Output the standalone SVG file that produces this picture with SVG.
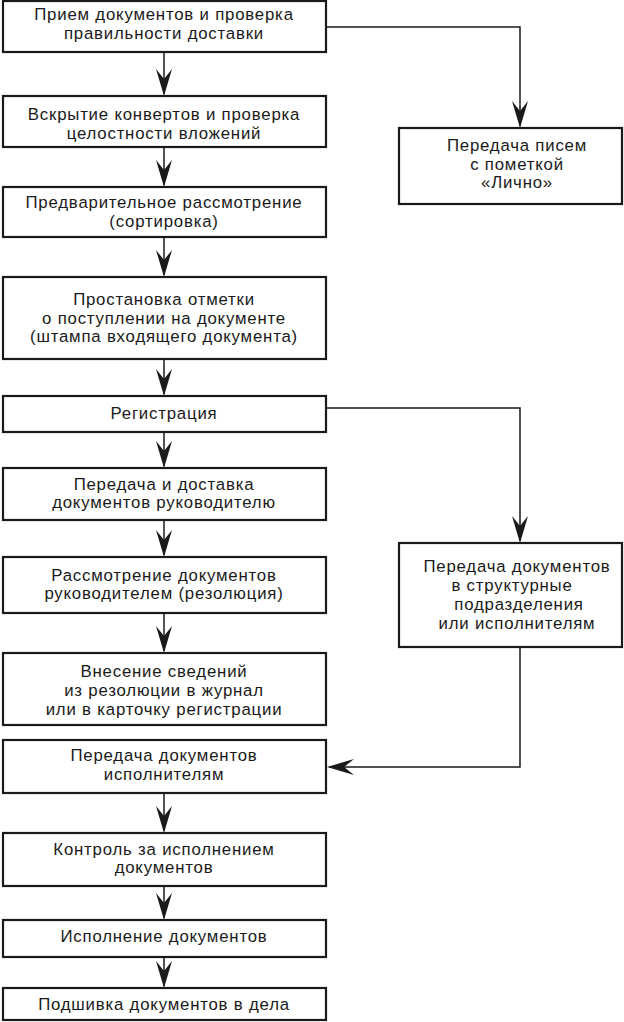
<svg xmlns="http://www.w3.org/2000/svg" width="624" height="1022" viewBox="0 0 624 1022">
<style>
.box{fill:#fff;stroke:#1a1a1a;stroke-width:2.2}
.t{font-family:"Liberation Sans",Arial,sans-serif;font-size:16.8px;letter-spacing:0.8px;fill:#1a1a1a;text-anchor:middle}
.c{fill:none;stroke:#1a1a1a;stroke-width:1.5}
</style>
<defs>
<marker id="ah" markerUnits="userSpaceOnUse" markerWidth="30" markerHeight="20" viewBox="-1 -9 30 18" refX="25" refY="0" orient="auto">
<path d="M27,0 L0,-8 L10,0 L0,8 Z" fill="#1a1a1a"/>
</marker>
</defs>
<rect width="624" height="1022" fill="#fff"/>
<g id="connectors">
<path class="c" d="M164,52 V94" marker-end="url(#ah)"/>
<path class="c" d="M164,147 V185" marker-end="url(#ah)"/>
<path class="c" d="M164,237 V275" marker-end="url(#ah)"/>
<path class="c" d="M164,359 V394" marker-end="url(#ah)"/>
<path class="c" d="M164,432 V466" marker-end="url(#ah)"/>
<path class="c" d="M164,520 V555" marker-end="url(#ah)"/>
<path class="c" d="M164,613 V651" marker-end="url(#ah)"/>
<path class="c" d="M164,793 V831" marker-end="url(#ah)"/>
<path class="c" d="M164,886 V918" marker-end="url(#ah)"/>
<path class="c" d="M164,957 V986" marker-end="url(#ah)"/>
<path class="c" d="M326,27 H520 V126" marker-end="url(#ah)"/>
<path class="c" d="M326,408 H520 V541" marker-end="url(#ah)"/>
<path class="c" d="M520,647 V767 H329" marker-end="url(#ah)"/>
</g>
<g id="n1"><rect class="box" x="3" y="1" width="323" height="51"/><text class="t" x="164" y="20.4">Прием документов и проверка</text><text class="t" x="164" y="39.2">правильности доставки</text></g>
<g id="n2"><rect class="box" x="3" y="96" width="323" height="51"/><text class="t" x="164" y="120.1">Вскрытие конвертов и проверка</text><text class="t" x="164" y="138.9">целостности вложений</text></g>
<g id="n3"><rect class="box" x="3" y="187" width="323" height="50"/><text class="t" x="164" y="207.9">Предварительное рассмотрение</text><text class="t" x="164" y="226.7">(сортировка)</text></g>
<g id="n4"><rect class="box" x="3" y="277" width="323" height="82"/><text class="t" x="164" y="304.7">Простановка отметки</text><text class="t" x="164" y="323.5">о поступлении на документе</text><text class="t" x="164" y="342.3">(штампа входящего документа)</text></g>
<g id="n5"><rect class="box" x="3" y="396" width="323" height="36"/><text class="t" x="164" y="419">Регистрация</text></g>
<g id="n6"><rect class="box" x="3" y="468" width="323" height="52"/><text class="t" x="164" y="489.6">Передача и доставка</text><text class="t" x="164" y="508.4">документов руководителю</text></g>
<g id="n7"><rect class="box" x="3" y="557" width="323" height="56"/><text class="t" x="164" y="580.6">Рассмотрение документов</text><text class="t" x="164" y="599.4">руководителем (резолюция)</text></g>
<g id="n8"><rect class="box" x="3" y="653" width="323" height="72"/><text class="t" x="164" y="677.2">Внесение сведений</text><text class="t" x="164" y="696">из резолюции в журнал</text><text class="t" x="164" y="714.8">или в карточку регистрации</text></g>
<g id="n9"><rect class="box" x="3" y="740" width="323" height="53"/><text class="t" x="164" y="761.1">Передача документов</text><text class="t" x="164" y="779.9">исполнителям</text></g>
<g id="n10"><rect class="box" x="3" y="833" width="323" height="53"/><text class="t" x="164" y="854.6">Контроль за исполнением</text><text class="t" x="164" y="873.4">документов</text></g>
<g id="n11"><rect class="box" x="3" y="920" width="323" height="37"/><text class="t" x="164" y="942">Исполнение документов</text></g>
<g id="n12"><rect class="box" x="3" y="988" width="323" height="32"/><text class="t" x="164" y="1010">Подшивка документов в дела</text></g>
<g id="nA"><rect class="box" x="399" y="128" width="223" height="76"/><text class="t" x="517" y="150.7">Передача писем</text><text class="t" x="517" y="169.5">с пометкой</text><text class="t" x="517" y="188.3">«Лично»</text></g>
<g id="nB"><rect class="box" x="399" y="543" width="223" height="104"/><text class="t" x="517" y="572.3">Передача документов</text><text class="t" x="512" y="591.1">в структурные</text><text class="t" x="519" y="609.9">подразделения</text><text class="t" x="517" y="628.7">или исполнителям</text></g>
</svg>
